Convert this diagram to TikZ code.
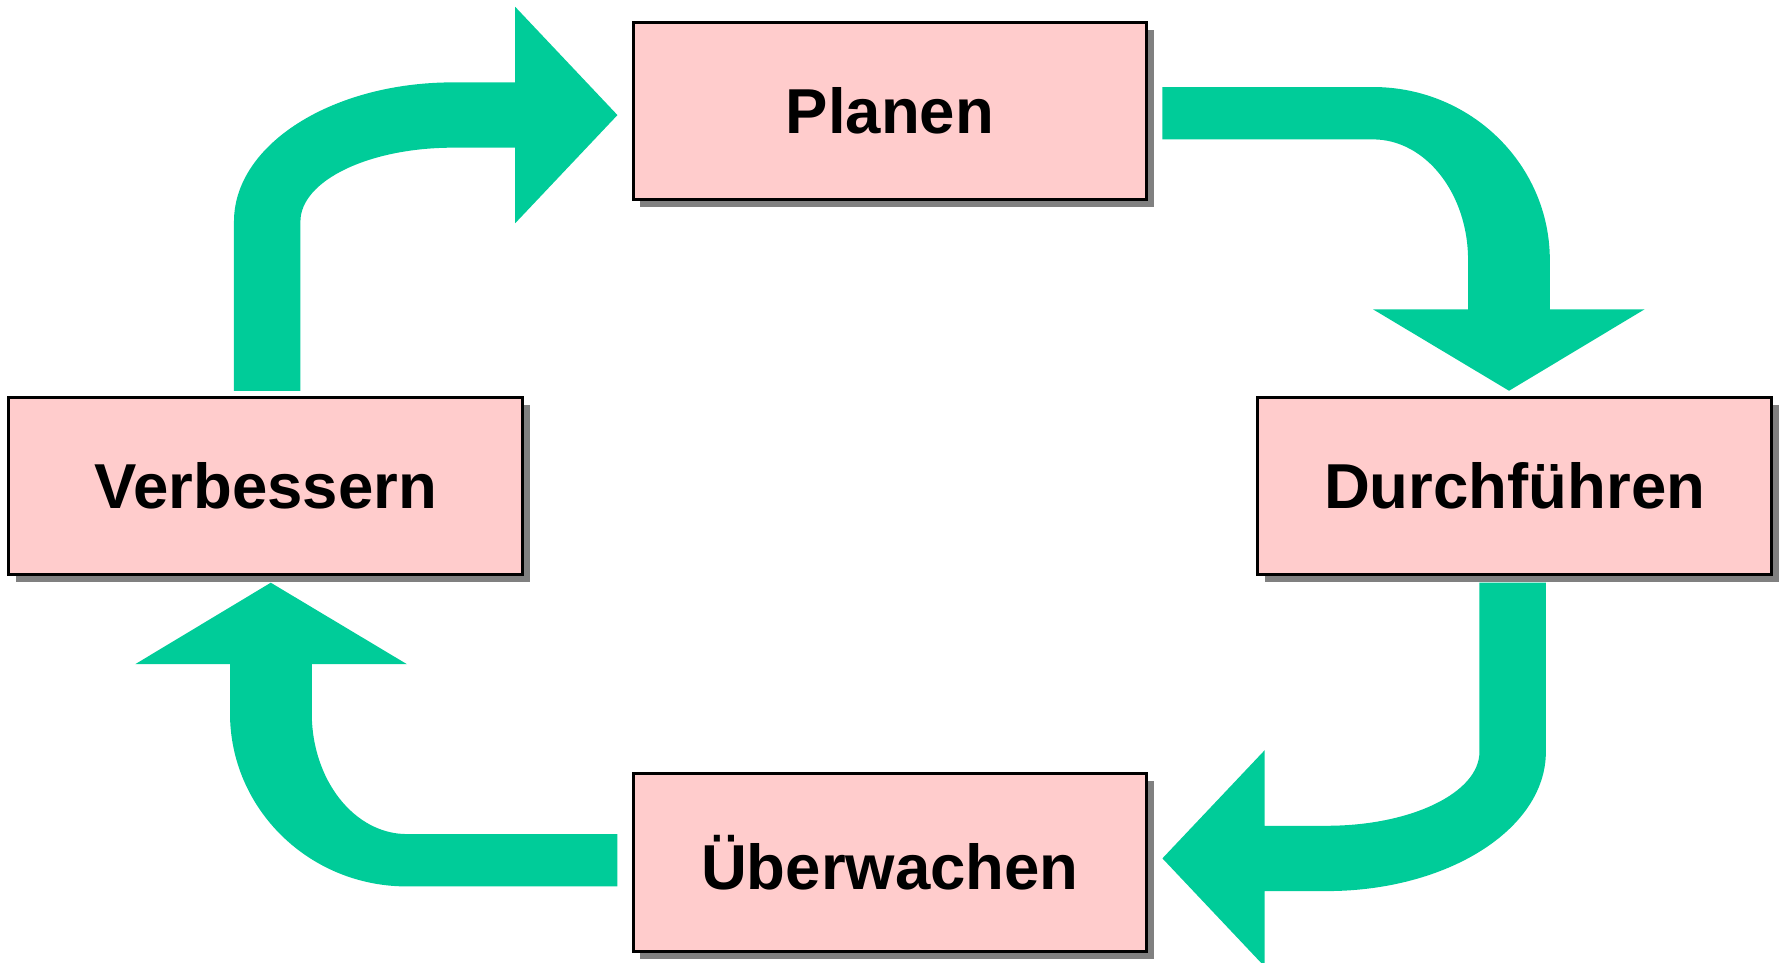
\documentclass[tikz,border=0pt]{standalone}
\usepackage{fontspec}
\setmainfont{Liberation Sans}
\usetikzlibrary{shadows}
\definecolor{boxpink}{HTML}{FFCCCC}
\definecolor{flowgreen}{HTML}{00CC99}
\definecolor{shadowgray}{HTML}{808080}
\begin{document}
\begin{tikzpicture}[x=0.01cm, y=-0.01cm,
  stage/.style={draw=black, line width=0.75pt, fill=boxpink,
    minimum width=4.52cm, minimum height=1.56cm, inner sep=0pt,
    font=\fontsize{15.9}{19}\selectfont\bfseries,
    drop shadow={shadow xshift=0.065cm, shadow yshift=-0.065cm,
      fill=shadowgray, opacity=1}},
  flow/.style={fill=flowgreen, draw=none}]
\clip (0,0) rectangle (1568,847);

% the four stages of the cycle
\node[stage] (plan)   at (783.5,97.7)  {Planen};
\node[stage] (verb)   at (234,428)     {Verbessern};
\node[stage] (durch)  at (1333.5,428)  {Durchführen};
\node[stage] (ueber)  at (783.5,759.3) {Überwachen};

% bent block arrow: Verbessern -> Planen
\fill[flow] (206,344) -- (206,195)
  .. controls (206,127.3) and (292.4,72.5) .. (399,72.5)
  -- (453.6,72.5) -- (453.6,6) -- (543.6,101.3) -- (453.6,196.5)
  -- (453.6,130) -- (399,130)
  .. controls (324.7,130) and (264.5,159.1) .. (264.5,195)
  -- (264.5,344) -- cycle;

% bent block arrow: Planen -> Durchfuehren
\fill[flow] (1023.4,76.6) -- (1208.8,76.6)
  .. controls (1294.8,76.6) and (1364.5,144.8) .. (1364.5,229)
  -- (1364.5,272.3) -- (1447.9,272.3) -- (1328.6,344) -- (1208.8,272.3)
  -- (1292.5,272.3) -- (1292.5,229)
  .. controls (1292.5,170.3) and (1255,122.7) .. (1208.8,122.7)
  -- (1023.4,122.7) -- cycle;

% bent block arrow: Durchfuehren -> Ueberwachen
\fill[flow] (1361,513) -- (1361,662)
  .. controls (1361,729.7) and (1274.6,784.5) .. (1168,784.5)
  -- (1113.4,784.5) -- (1113.4,851) -- (1023.4,755.7) -- (1113.4,660.5)
  -- (1113.4,727) -- (1168,727)
  .. controls (1242.3,727) and (1302.5,697.9) .. (1302.5,662)
  -- (1302.5,513) -- cycle;

% bent block arrow: Ueberwachen -> Verbessern
\fill[flow] (543.6,780.4) -- (358.2,780.4)
  .. controls (272.2,780.4) and (202.5,712.2) .. (202.5,628)
  -- (202.5,584.7) -- (119.1,584.7) -- (238.4,513) -- (358.2,584.7)
  -- (274.5,584.7) -- (274.5,628)
  .. controls (274.5,686.7) and (312,734.3) .. (358.2,734.3)
  -- (543.6,734.3) -- cycle;
\end{tikzpicture}
\end{document}
